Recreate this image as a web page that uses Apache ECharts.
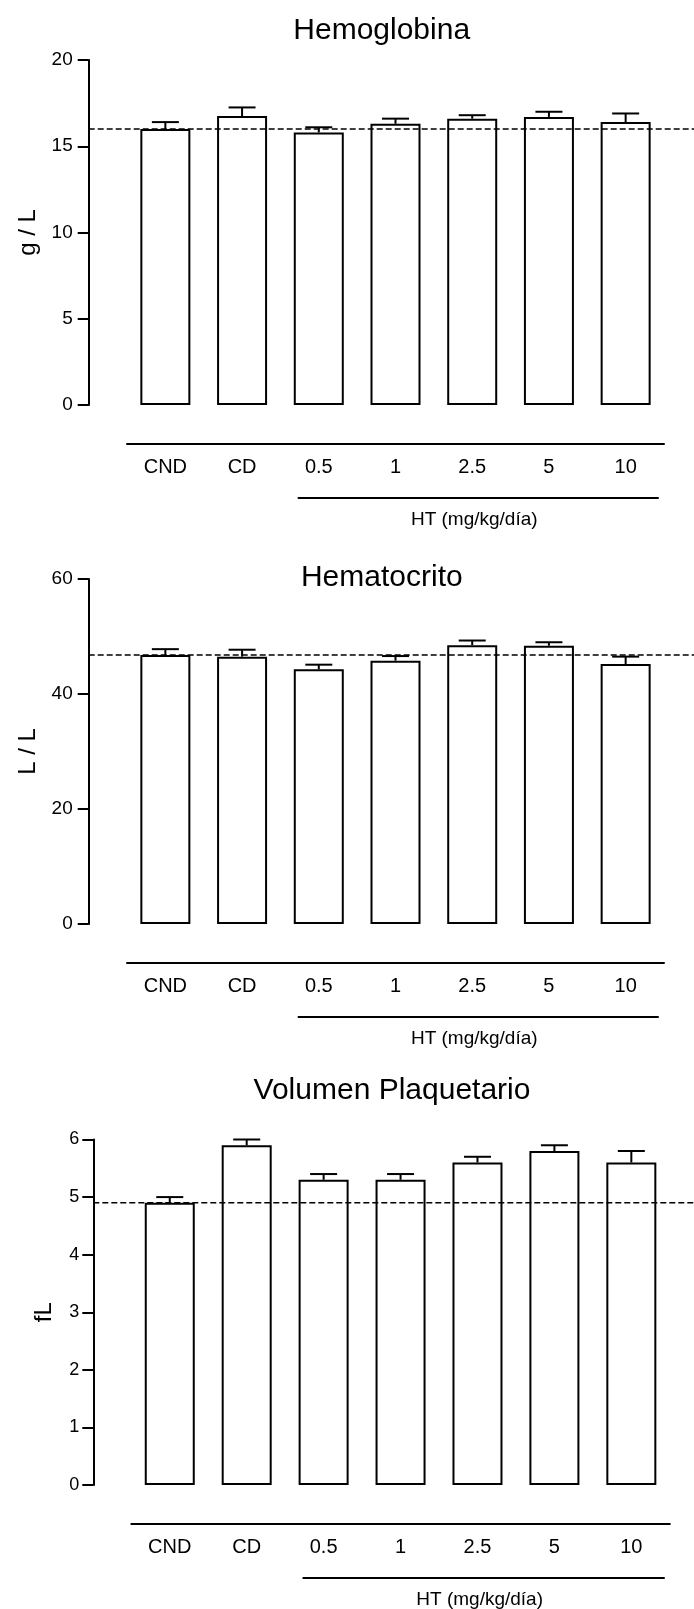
<!DOCTYPE html>
<html><head><meta charset="utf-8">
<script src="https://cdn.jsdelivr.net/npm/echarts@6/dist/echarts.min.js"></script>
<style>html,body{margin:0;padding:0;background:#fff}#c{width:694px;height:1609px}</style>
</head><body><div id="c"></div>
<script>
// ---- data ----
const categories = ['CND', 'CD', '0.5', '1', '2.5', '5', '10'];
const hemoglobinaMean = [16.0, 16.75, 15.8, 16.3, 16.6, 16.7, 16.4];
const hemoglobinaSem  = [0.4, 0.5, 0.3, 0.3, 0.2, 0.3, 0.5];
const hemoglobinaRef  = 16.0;
const hematocritoMean = [46.8, 46.5, 44.3, 45.8, 48.5, 48.4, 45.2];
const hematocritoSem  = [1.0, 1.2, 0.8, 0.8, 0.8, 0.6, 1.3];
const hematocritoRef  = 46.8;
const volumenMean = [4.9, 5.9, 5.3, 5.3, 5.6, 5.8, 5.6];
const volumenSem  = [0.1, 0.1, 0.1, 0.1, 0.1, 0.1, 0.2];
const volumenRef  = 4.9;
const titles = ['Hemoglobina', 'Hematocrito', 'Volumen Plaquetario'];
const yNames = ['g / L', 'L / L', 'fL'];
const yMax = [20, 60, 6];
const yInterval = [5, 20, 1];
const groupLabel = 'HT (mg/kg/día)';

const means = [hemoglobinaMean, hematocritoMean, volumenMean];
const sems = [hemoglobinaSem, hematocritoSem, volumenSem];
const refs = [hemoglobinaRef, hematocritoRef, volumenRef];

// ---- layout (pixels) ----
const L = [
  {axisX: 88.7, left: 127, right: 30, top: 60, h: 345, tx: 381.7, ty: 31.2, htL: 298.5, htR: 36, fs: 19, lm: 16, ng: 48},
  {axisX: 88.7, left: 127, right: 30, top: 579, h: 345, tx: 381.8, ty: 578, htL: 298.5, htR: 36, fs: 19, lm: 16, ng: 48},
  {axisX: 93.3, left: 131.3, right: 24.2, top: 1139.5, h: 345.5, tx: 392, ty: 1090.5, htL: 303.3, htR: 30, fs: 18, lm: 14, ng: 37}
];

const FONT = 'Liberation Sans, Arial, sans-serif';
const BLACK = '#000';
const option = {
  animation: false,
  backgroundColor: '#fff',
  textStyle: {fontFamily: FONT, color: BLACK},
  title: [], grid: [], xAxis: [], yAxis: [], series: []
};

for (let c = 0; c < 3; c++) {
  const o = L[c];
  const zeroY = o.top + o.h;
  option.title.push({
    text: titles[c], left: o.tx, top: o.ty, padding: 0,
    textAlign: 'center', textVerticalAlign: 'middle',
    textStyle: {fontFamily: FONT, fontSize: 30, fontWeight: 'normal', color: BLACK}
  });
  option.grid.push({left: o.left, right: o.right, top: o.top, height: o.h, outerBoundsMode: 'none', containLabel: false});
  option.grid.push({left: o.htL, right: o.htR, top: zeroY + 93 - 10, height: 10, outerBoundsMode: 'none', containLabel: false});
  option.grid.push({left: o.axisX, right: 0, top: o.top, height: o.h, outerBoundsMode: 'none', containLabel: false});

  const gi = 3 * c;
  option.xAxis.push({
    type: 'category', gridIndex: gi, data: categories, position: 'bottom', offset: 38.5,
    axisLine: {show: true, onZero: false, lineStyle: {color: BLACK, width: 2}},
    axisTick: {show: false}, splitLine: {show: false},
    axisLabel: {interval: 0, fontSize: 20, margin: 14, color: BLACK, fontFamily: FONT}
  });
  option.yAxis.push({
    type: 'value', gridIndex: gi, min: 0, max: yMax[c], interval: yInterval[c],
    position: 'left', offset: o.left - o.axisX,
    name: yNames[c], nameLocation: 'middle', nameRotate: 90, nameGap: o.ng,
    nameTextStyle: {fontSize: 24, color: BLACK, fontFamily: FONT},
    axisLine: {show: true, onZero: false, lineStyle: {color: BLACK, width: 2}},
    axisTick: {show: true, inside: false, length: 11, lineStyle: {color: BLACK, width: 2}},
    splitLine: {show: false},
    axisLabel: {fontSize: o.fs, margin: o.lm, color: BLACK, fontFamily: FONT}
  });
  option.xAxis.push({
    type: 'category', gridIndex: gi + 1, data: [''], position: 'bottom',
    axisLine: {show: true, onZero: false, lineStyle: {color: BLACK, width: 2}},
    axisTick: {show: false}, axisLabel: {show: false}, splitLine: {show: false},
    name: groupLabel, nameLocation: 'middle', nameGap: 12.5,
    nameTextStyle: {fontSize: 19, color: BLACK, fontFamily: FONT, padding: [0, 8, 0, 0]}
  });
  option.yAxis.push({type: 'value', gridIndex: gi + 1, show: false});
  option.xAxis.push({type: 'value', gridIndex: gi + 2, min: 0, max: 1, show: false});
  option.yAxis.push({type: 'value', gridIndex: gi + 2, min: 0, max: yMax[c], show: false});

  option.series.push({
    type: 'bar', xAxisIndex: gi, yAxisIndex: gi, data: means[c], barWidth: 50, z: 2,
    itemStyle: {color: '#fff', borderColor: BLACK, borderWidth: 2}
  });
  option.series.push({
    type: 'custom', xAxisIndex: gi, yAxisIndex: gi, z: 3,
    data: categories.map((k, i) => [i, means[c][i], sems[c][i]]),
    renderItem: function (params, api) {
      const x = api.value(0), m = api.value(1), s = api.value(2);
      const p0 = api.coord([x, m]);
      const p1 = api.coord([x, m + s]);
      const half = 13.5;
      const st = {stroke: BLACK, lineWidth: 2};
      return {type: 'group', children: [
        {type: 'line', shape: {x1: p0[0], y1: p0[1], x2: p1[0], y2: p1[1]}, style: st},
        {type: 'line', shape: {x1: p1[0] - half, y1: p1[1], x2: p1[0] + half, y2: p1[1]}, style: st}
      ]};
    }
  });
  option.series.push({
    type: 'line', xAxisIndex: gi + 2, yAxisIndex: gi + 2, z: 5, symbol: 'none', silent: true,
    data: [[0, refs[c]], [1, refs[c]]],
    lineStyle: {color: BLACK, width: 1.5, type: [6, 3]}
  });
}

const chart = echarts.init(document.getElementById('c'), null, {renderer: 'canvas'});
chart.setOption(option);
</script>
</body></html>
